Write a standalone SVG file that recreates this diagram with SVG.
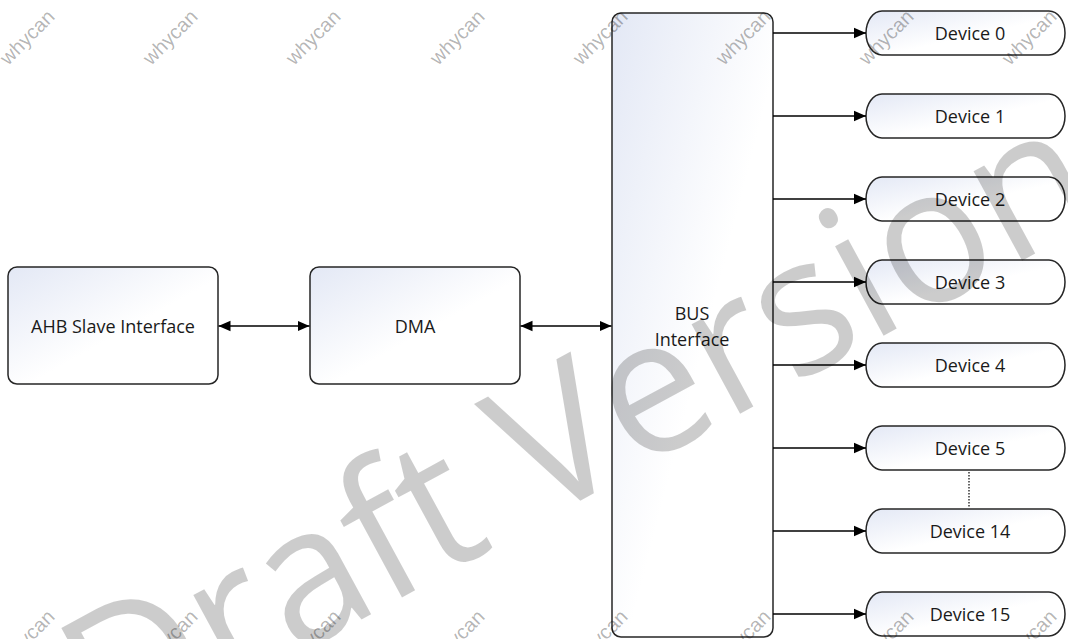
<svg xmlns="http://www.w3.org/2000/svg" width="1068" height="639" viewBox="0 0 1068 639">
  <defs>
    <linearGradient id="boxfill" x1="0" y1="0" x2="1" y2="1">
      <stop offset="0" stop-color="#e3e8f5"/>
      <stop offset="0.55" stop-color="#ffffff"/>
      <stop offset="1" stop-color="#ffffff"/>
    </linearGradient>
    <marker id="arr" viewBox="0 0 12 12" refX="12" refY="6" markerWidth="12" markerHeight="12" markerUnits="userSpaceOnUse" orient="auto-start-reverse">
      <path d="M0,0.8 L12,6 L0,11.2 z" fill="#000"/>
    </marker>
    <style>
      .box { fill: url(#boxfill); stroke: #262626; stroke-width: 1.5; }
      .lbl { font-family: "Open Sans", "Liberation Sans", sans-serif; font-size: 18px; fill: #1a1a1a; text-anchor: middle; }
      .conn { stroke: #000; stroke-width: 1.4; fill: none; }
      .wm { font-family: "Liberation Sans", Arial, sans-serif; font-size: 20px; fill: #000; fill-opacity: 0.3; text-anchor: middle; }
      .big { font-family: "Open Sans", "Liberation Sans", sans-serif; font-size: 190px; fill: #000; fill-opacity: 0.2; text-anchor: middle; }
    </style>
  </defs>
  <rect width="1068" height="639" fill="#ffffff"/>

  <g id="ahb">
    <rect class="box" x="8" y="267" width="210" height="117" rx="9"/>
    <text class="lbl" x="113" y="333">AHB Slave Interface</text>
  </g>
  <g id="dma">
    <rect class="box" x="310" y="267" width="210" height="117" rx="9"/>
    <text class="lbl" x="415" y="333">DMA</text>
  </g>
  <g id="bus">
    <rect class="box" x="612" y="13" width="161" height="624" rx="9"/>
    <text class="lbl" x="692" y="320">BUS</text>
    <text class="lbl" x="692" y="346">Interface</text>
  </g>

  <g id="dev0"><rect class="box" x="866" y="11" width="199" height="44" rx="16" ry="22"/><text class="lbl" x="970" y="40">Device 0</text></g>
  <g id="dev1"><rect class="box" x="866" y="94" width="199" height="44" rx="16" ry="22"/><text class="lbl" x="970" y="123">Device 1</text></g>
  <g id="dev2"><rect class="box" x="866" y="177" width="199" height="44" rx="16" ry="22"/><text class="lbl" x="970" y="206">Device 2</text></g>
  <g id="dev3"><rect class="box" x="866" y="260" width="199" height="44" rx="16" ry="22"/><text class="lbl" x="970" y="289">Device 3</text></g>
  <g id="dev4"><rect class="box" x="866" y="343" width="199" height="44" rx="16" ry="22"/><text class="lbl" x="970" y="372">Device 4</text></g>
  <g id="dev5"><rect class="box" x="866" y="426" width="199" height="44" rx="16" ry="22"/><text class="lbl" x="970" y="455">Device 5</text></g>
  <g id="dev14"><rect class="box" x="866" y="509" width="199" height="44" rx="16" ry="22"/><text class="lbl" x="970" y="538">Device 14</text></g>
  <g id="dev15"><rect class="box" x="866" y="592" width="199" height="44" rx="16" ry="22"/><text class="lbl" x="970" y="621">Device 15</text></g>

  <g id="connectors">
    <line class="conn" x1="218.5" y1="326" x2="309.5" y2="326" marker-start="url(#arr)" marker-end="url(#arr)"/>
    <line class="conn" x1="520.5" y1="326" x2="611.5" y2="326" marker-start="url(#arr)" marker-end="url(#arr)"/>
    <line class="conn" x1="773" y1="33" x2="866" y2="33" marker-end="url(#arr)"/>
    <line class="conn" x1="773" y1="116" x2="866" y2="116" marker-end="url(#arr)"/>
    <line class="conn" x1="773" y1="199" x2="866" y2="199" marker-end="url(#arr)"/>
    <line class="conn" x1="773" y1="282" x2="866" y2="282" marker-end="url(#arr)"/>
    <line class="conn" x1="773" y1="365" x2="866" y2="365" marker-end="url(#arr)"/>
    <line class="conn" x1="773" y1="448" x2="866" y2="448" marker-end="url(#arr)"/>
    <line class="conn" x1="773" y1="531" x2="866" y2="531" marker-end="url(#arr)"/>
    <line class="conn" x1="773" y1="614" x2="866" y2="614" marker-end="url(#arr)"/>
    <line x1="969" y1="472" x2="969" y2="507" stroke="#000" stroke-width="1.2" stroke-dasharray="1.5 1.5"/>
  </g>

  <g id="watermark">
    <text class="big" transform="translate(609,485) rotate(-28.5)" textLength="1135" lengthAdjust="spacingAndGlyphs">Draft Version</text>
    <text class="wm" transform="translate(27,37) rotate(-45)" dy="7">whycan</text>
    <text class="wm" transform="translate(170,37) rotate(-45)" dy="7">whycan</text>
    <text class="wm" transform="translate(313,37) rotate(-45)" dy="7">whycan</text>
    <text class="wm" transform="translate(457,37) rotate(-45)" dy="7">whycan</text>
    <text class="wm" transform="translate(600,37) rotate(-45)" dy="7">whycan</text>
    <text class="wm" transform="translate(743,37) rotate(-45)" dy="7">whycan</text>
    <text class="wm" transform="translate(886,37) rotate(-45)" dy="7">whycan</text>
    <text class="wm" transform="translate(1029,37) rotate(-45)" dy="7">whycan</text>
    <text class="wm" transform="translate(27,637) rotate(-45)" dy="7">whycan</text>
    <text class="wm" transform="translate(170,637) rotate(-45)" dy="7">whycan</text>
    <text class="wm" transform="translate(313,637) rotate(-45)" dy="7">whycan</text>
    <text class="wm" transform="translate(457,637) rotate(-45)" dy="7">whycan</text>
    <text class="wm" transform="translate(600,637) rotate(-45)" dy="7">whycan</text>
    <text class="wm" transform="translate(743,637) rotate(-45)" dy="7">whycan</text>
    <text class="wm" transform="translate(886,637) rotate(-45)" dy="7">whycan</text>
    <text class="wm" transform="translate(1029,637) rotate(-45)" dy="7">whycan</text>
  </g>
</svg>
